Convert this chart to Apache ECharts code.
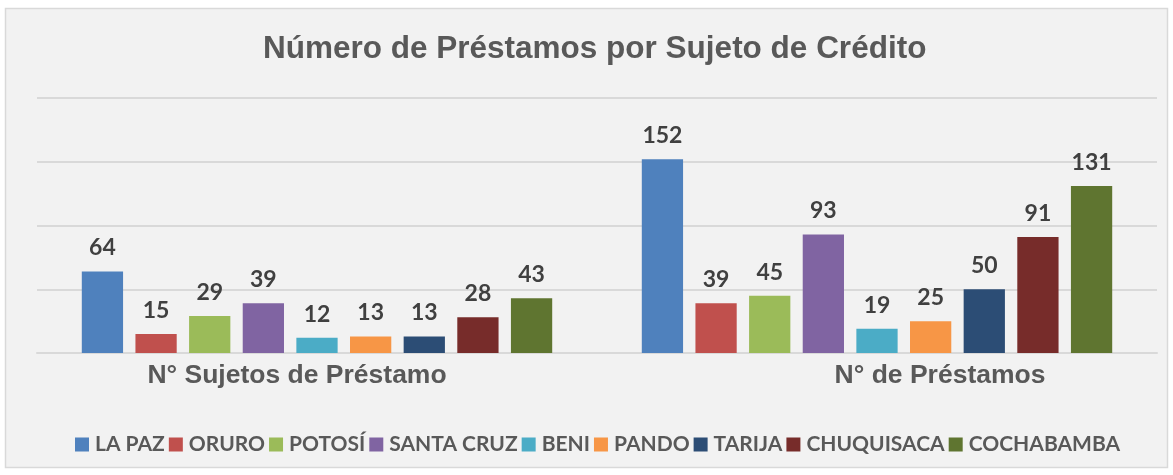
<!DOCTYPE html>
<html>
<head>
<meta charset="utf-8">
<script src="https://cdn.jsdelivr.net/npm/echarts@6/dist/echarts.min.js"></script>
<style>
  html, body { margin: 0; padding: 0; background: #ffffff; }
  #chart { width: 1173px; height: 475px; }
</style>
</head>
<body>
<div id="chart"></div>
<script>
var categories = ['N° Sujetos de Préstamo', 'N° de Préstamos']
var departamentos = ['LA PAZ', 'ORURO', 'POTOSÍ', 'SANTA CRUZ', 'BENI', 'PANDO', 'TARIJA', 'CHUQUISACA', 'COCHABAMBA']
var sujetos = [64, 15, 29, 39, 12, 13, 13, 28, 43]
var prestamos = [152, 39, 45, 93, 19, 25, 50, 91, 131]
var colores = ['#4f81bd', '#c0504d', '#9bbb59', '#8064a2', '#4bacc6', '#f79646', '#2c4d75', '#772c2a', '#5f7530']

var series = departamentos.map(function (d, i) {
  return {
    name: d,
    type: 'bar',
    data: [sujetos[i], prestamos[i]],
    itemStyle: { color: colores[i] },
    barGap: '30%',
    barCategoryGap: '16%',
    label: {
      show: true,
      position: 'top',
      distance: 12,
      fontFamily: 'Lato',
      fontWeight: 'bold',
      fontSize: 23,
      color: '#404040',
    },
  }
})

// las etiquetas del eje no van centradas en el original
var catData = [
  { value: categories[0], textStyle: { padding: [0, 40, 0, 0] } },
  { value: categories[1], textStyle: { padding: [0, 0, 0, 126] } },
]

var myChart = echarts.init(document.getElementById('chart'))
var option = {
  animation: false,
  graphic: [
    {
      type: 'rect',
      z: -10,
      shape: { x: 5.5, y: 8.5, width: 1162, height: 459 },
      style: { fill: '#f2f2f2', stroke: '#d9d9d9', lineWidth: 1.5 },
    },
  ],
  title: {
    text: 'Número de Préstamos por Sujeto de Crédito',
    left: 258,
    top: 28,
    textStyle: {
      fontFamily: 'Liberation Sans',
      fontWeight: 'bold',
      fontSize: 31.5,
      color: '#595959',
    },
  },
  legend: {
    bottom: 15,
    left: 70,
    itemWidth: 14,
    itemHeight: 14,
    itemGap: 4,
    icon: 'rect',
    textStyle: {
      fontFamily: 'Lato',
      fontWeight: 'bold',
      fontSize: 21,
      color: '#595959',
      padding: [0, 0, 0, 1],
    },
  },
  grid: { left: 37, right: 16, top: 98, bottom: 122, containLabel: false },
  xAxis: {
    type: 'category',
    data: catData,
    axisTick: { show: false },
    axisLine: { lineStyle: { color: '#d9d9d9', width: 2 } },
    axisLabel: {
      fontFamily: 'Liberation Sans',
      fontWeight: 'bold',
      fontSize: 26.5,
      color: '#595959',
      margin: 9,
    },
  },
  yAxis: {
    type: 'value',
    min: 0,
    max: 200,
    interval: 50,
    axisLabel: { show: false },
    axisLine: { show: false },
    axisTick: { show: false },
    splitLine: { lineStyle: { color: '#d9d9d9', width: 2 } },
  },
  series: series,
}
option && myChart.setOption(option)
</script>
</body>
</html>
